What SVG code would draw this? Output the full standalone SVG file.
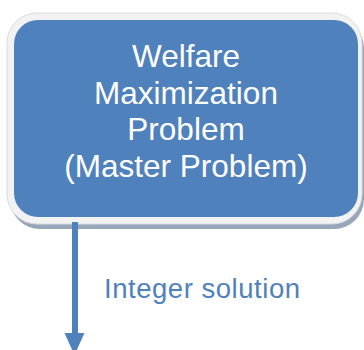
<svg xmlns="http://www.w3.org/2000/svg" width="364" height="350" viewBox="0 0 364 350">
<style>
.t{font-family:"Liberation Sans",Arial,sans-serif;fill:#fff;font-size:31.5px;text-anchor:middle}
.l{font-family:"Liberation Sans",Arial,sans-serif;fill:#4F81BD;font-size:27.5px}
.c{stroke:#4F81BD;stroke-width:6}
.h{fill:#4F81BD}
</style>
<g id="master">
<rect x="10" y="18" width="354" height="211" rx="30" fill="#98A6BA"/>
<rect x="7" y="13" width="355" height="211" rx="30" fill="#F2F2F2" stroke="#D8DCE2" stroke-width="1"/>
<rect x="14" y="20" width="344" height="197" rx="24" fill="#4F81BD"/>
<text class="t" x="186" y="67">Welfare</text>
<text class="t" x="186" y="103.5">Maximization</text>
<text class="t" x="186" y="140">Problem</text>
<text class="t" x="186" y="177">(Master Problem)</text>
</g>
<g id="connectors">
<line class="c" x1="75" y1="222" x2="75" y2="334"/>
<path class="h" d="M64.5,333 L84.5,333 L74.5,355 Z"/>
<text class="l" x="104" y="298" textLength="196" lengthAdjust="spacing">Integer solution</text>
</g>
</svg>
